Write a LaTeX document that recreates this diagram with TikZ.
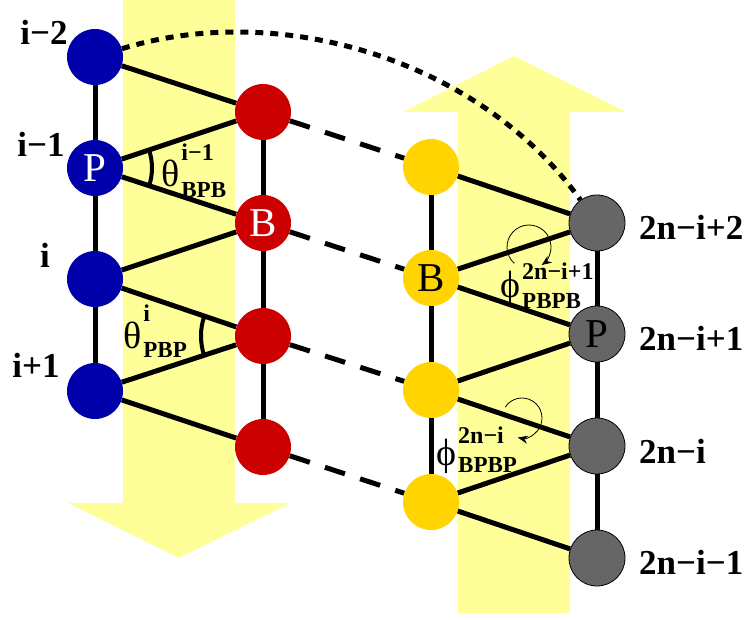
\documentclass[tikz,border=0pt]{standalone}
\usepackage{fontspec}
\setmainfont{Liberation Serif}
\usetikzlibrary{arrows,arrows.meta,backgrounds}
\definecolor{pblue}{RGB}{0,0,170}
\definecolor{pred}{RGB}{204,0,0}
\definecolor{bgold}{RGB}{255,212,0}
\definecolor{bgray}{RGB}{102,102,102}
\definecolor{lyellow}{RGB}{255,255,153}
% glyph with superscript and subscript
\newcommand{\angsym}[5]{{\fontsize{38}{38}\selectfont #1}\kern2pt\rlap{\raisebox{#4}{\fontsize{24}{24}\selectfont\bfseries #2}}\raisebox{-#5}{\fontsize{23}{23}\selectfont\bfseries #3}}

\begin{document}
\begin{tikzpicture}[x=1pt,y=1pt,
    bead/.style={circle,minimum size=56pt,inner sep=0pt,font=\fontsize{41}{41}\selectfont},
    pbead/.style={bead,fill=pblue,text=white},
    rbead/.style={bead,fill=pred,text=white},
    ybead/.style={bead,fill=bgold},
    gbead/.style={bead,fill=bgray,draw=black,line width=0.8pt},
    bond/.style={line width=5pt},
    link/.style={line width=5pt,dash pattern=on 21pt off 16pt},
    idx/.style={font=\fontsize{35}{35}\selectfont\bfseries,inner sep=0pt},
    ang/.style={line width=4pt},
    curl/.style={line width=0.8pt,-{Stealth[length=10pt,width=8pt]}}]
\useasboundingbox (0,0) rectangle (751,-620);

    % left strand
    \draw (95,-57) node[pbead] (L1) {};
    \draw (95,-168) node[pbead] (L2) {P};
    \draw (95,-279) node[pbead] (L3) {};
    \draw (95,-391) node[pbead] (L4) {};
    \draw (263,-112) node[rbead] (R1) {};
    \draw (263,-223) node[rbead] (R2) {B};
    \draw (263,-336) node[rbead] (R3) {};
    \draw (263,-447) node[rbead] (R4) {};
    % right strand
    \draw (431,-167) node[ybead] (Y1) {};
    \draw (431,-278) node[ybead] (Y2) {B};
    \draw (431,-390) node[ybead] (Y3) {};
    \draw (431,-502) node[ybead] (Y4) {};
    \draw (597,-223) node[gbead] (G1) {};
    \draw (597,-334) node[gbead] (G2) {P};
    \draw (597,-446) node[gbead] (G3) {};
    \draw (597,-558) node[gbead] (G4) {};

    \draw (44,-32) node[idx] (l1) {i−2};
    \draw (41,-144) node[idx] (l2) {i−1};
    \draw (45,-255) node[idx] (l3) {i};
    \draw (36,-365) node[idx] (l4) {i+1};
    \draw (639,-227) node[idx,anchor=west] (g1) {2n−i+2};
    \draw (639,-338) node[idx,anchor=west] (g2) {2n−i+1};
    \draw (639,-451) node[idx,anchor=west] (g3) {2n−i};
    \draw (639,-562) node[idx,anchor=west] (g4) {2n−i−1};

\begin{scope}[on background layer]
    % direction arrows
    \fill[lyellow] (123,0) -- (235,0) -- (235,-503) -- (290,-503) -- (179,-558) -- (68,-503) -- (123,-503) -- cycle;
    \fill[lyellow] (458,-613) -- (570,-613) -- (570,-112) -- (626,-112) -- (514,-56) -- (403,-112) -- (458,-112) -- cycle;
    \draw[bond] (L1) -- (L4);
    \draw[bond] (R1) -- (R4);
    \draw[bond] (Y1) -- (Y4);
    \draw[bond] (G1) -- (G4);
    \path[bond] (L1) edge (R1) (R1) edge (L2) (L2) edge (R2) (R2) edge (L3)
                (L3) edge (R3) (R3) edge (L4) (L4) edge (R4);
    \path[bond] (Y1) edge (G1) (G1) edge (Y2) (Y2) edge (G2) (G2) edge (Y3)
                (Y3) edge (G3) (G3) edge (Y4) (Y4) edge (G4);
    \path[link] (R1) edge (Y1) (R2) edge (Y2) (R3) edge (Y3) (R4) edge (Y4);
\end{scope}

    \draw[line width=5pt,dash pattern=on 8pt off 7pt] (L1) .. controls (280,0) and (480,-60) .. (G1);

    % angles
    \draw[ang] (L2.center) ++(-18.4:57) arc (-18.4:18.4:57);
    \draw[ang] (R3.center) ++(161.3:62) arc (161.3:198.3:62);
    \draw (161,-187) node[anchor=base west,inner sep=0pt] (t1) {\angsym{θ}{i−1}{BPB}{26pt}{10pt}};
    \draw (123,-348) node[anchor=base west,inner sep=0pt] (t2) {\angsym{θ}{i}{PBP}{27pt}{9pt}};
    % torsions
    \draw[curl] (529,-247) ++(228:22) arc (228:-55:22);
    \draw[curl] (522,-418) ++(147:20) arc (147:-102:20);
    \draw (500,-297) node[anchor=base west,inner sep=0pt] (p1) {\angsym{ϕ}{2n−i+1}{PBPB}{18pt}{11pt}};
    \draw (436,-465) node[anchor=base west,inner sep=0pt] (p2) {\angsym{ϕ}{2n−i}{BPBP}{22pt}{7pt}};

\end{tikzpicture}
\end{document}
